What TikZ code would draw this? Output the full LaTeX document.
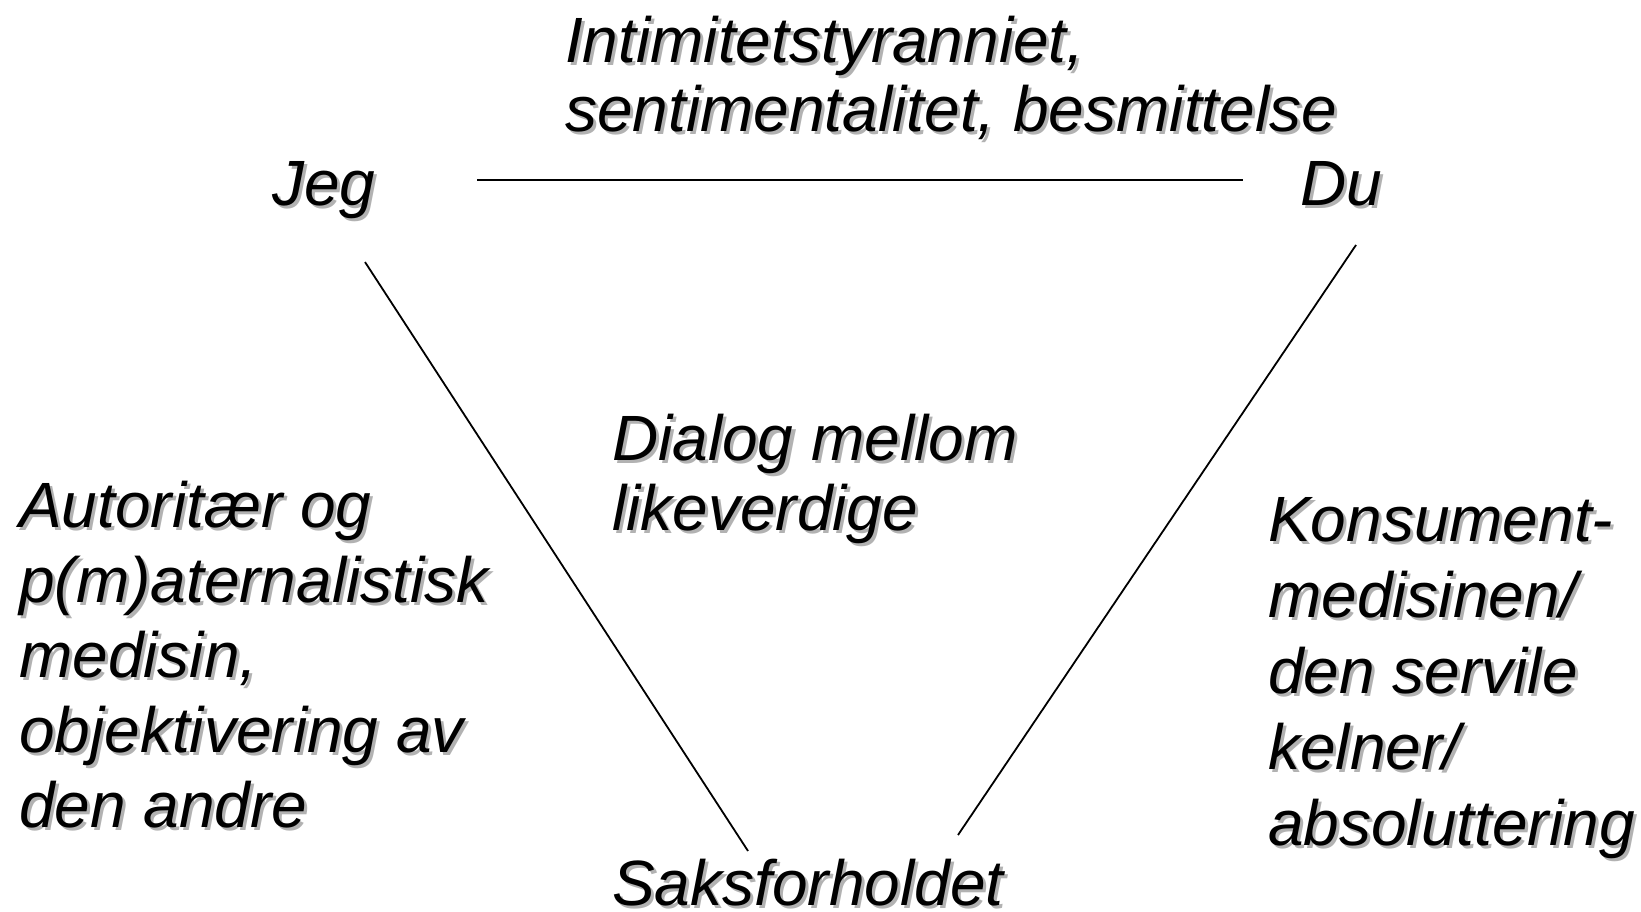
\documentclass[tikz,border=0pt]{standalone}
\usepackage{fontspec}
\setmainfont{Liberation Sans}
\begin{document}
\begin{tikzpicture}[x=1pt,y=-1pt]
    \def\sx{3}
    \def\sy{3}

    \tikzstyle{txt}=[inner sep=0pt,anchor=base west,align=left,text=black,font=\fontsize{64}{75}\selectfont\itshape]
    \tikzstyle{tight}=[font=\fontsize{64}{69.5}\selectfont\itshape]
    \tikzstyle{shade}=[txt,text=black!30]
    \tikzstyle{edge}=[draw=black,line width=1.8pt]

    \useasboundingbox (0,0) rectangle (1641,912);

    % corners
    \node[shade] at (272+\sx,206+\sy) {Jeg};
    \node[txt]  (jeg) at (272,206) {Jeg};
    \node[shade] at (1300+\sx,206+\sy) {Du};
    \node[txt]  (du) at (1300,206) {Du};
    \node[shade] at (612+\sx,905+\sy) {Saksforholdet};
    \node[txt]  (saks) at (612,905) {Saksforholdet};

    % texts (anchor = baseline of last line)
    \node[shade,tight] at (565+\sx,132+\sy) {Intimitetstyranniet,\\sentimentalitet, besmittelse};
    \node[txt,tight]  (intim) at (565,132) {Intimitetstyranniet,\\sentimentalitet, besmittelse};

    \node[shade,tight] at (612+\sx,530+\sy) {Dialog mellom\\likeverdige};
    \node[txt,tight]  (dialog) at (612,530) {Dialog mellom\\likeverdige};

    \node[shade] at (19+\sx,827+\sy) {Autoritær og\\p(m)aternalistisk\\medisin,\\objektivering av\\den andre};
    \node[txt]  (autor) at (19,827) {Autoritær og\\p(m)aternalistisk\\medisin,\\objektivering av\\den andre};

    \node[shade,font=\fontsize{64}{76}\selectfont\itshape] at (1268+\sx,845+\sy) {Konsument-\\medisinen/\\den servile\\kelner/\\absoluttering};
    \node[txt,font=\fontsize{64}{76}\selectfont\itshape]  (konsum) at (1268,845) {Konsument-\\medisinen/\\den servile\\kelner/\\absoluttering};

    % line ends
    \coordinate (jegR) at (477,180);
    \coordinate (duL) at (1243,180);
    \coordinate (jegB) at (365,262);
    \coordinate (saksL) at (748,851);
    \coordinate (duB) at (1356,245);
    \coordinate (saksR) at (958,835);

    \draw [edge] (jegR) -- (duL);
    \draw [edge] (jegB) -- (saksL);
    \draw [edge] (duB) -- (saksR);

\end{tikzpicture}
\end{document}
